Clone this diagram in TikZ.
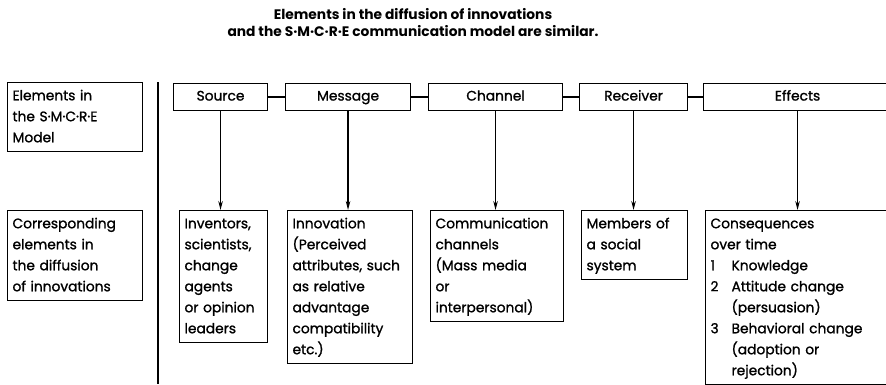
\documentclass[tikz,border=0pt]{standalone}
\usepackage{fontspec}
\setmainfont{Poppins}[UprightFeatures={FakeBold=1.2}]
\usetikzlibrary{arrows.meta}
\begin{document}
\begin{tikzpicture}[x=1pt,y=-1pt,
  line/.style={line width=1.2pt},
  hbox/.style={draw,line width=1.1pt,inner sep=0pt,minimum height=27pt,text height=10pt,text depth=3pt,anchor=north west,font=\fontsize{13.8}{15}\selectfont},
  tbox/.style={draw,line width=1.1pt,anchor=north west,align=left,inner xsep=5pt,inner ysep=3pt,font=\fontsize{13.8}{21}\selectfont,execute at begin node=\strut,execute at end node=\strut},
  ttl/.style={align=center,font=\bfseries\fontsize{13.8}{17}\selectfont},
  arr/.style={line width=1.2pt,-{Stealth[length=9pt,width=4.5pt]}}]
\useasboundingbox (0,0) rectangle (886,384);
\fill[white] (0,0) rectangle (886,384);

\node[ttl] (title) at (413,23) {Elements in the diffusion of innovations\\and the S·M·C·R·E communication model are similar.};

\node[tbox,text width=125pt] (lmodel) at (7,82) {Elements in\\the S·M·C·R·E\\Model};
\node[tbox,text width=125pt] (ldiff) at (7,210) {Corresponding\\elements in\\the diffusion\\of innovations};

\coordinate (vtop) at (158,82);
\coordinate (vbot) at (158,384);
\draw[line] (vtop) -- (vbot);

\node[hbox,minimum width=94pt] (source) at (173,83) {Source};
\node[hbox,minimum width=125pt] (message) at (285,83) {Message};
\node[hbox,minimum width=134pt] (channel) at (428,83) {Channel};
\node[hbox,minimum width=108pt] (receiver) at (579,83) {Receiver};
\node[hbox,minimum width=188pt] (effects) at (703,83) {Effects};

\draw[line] (source) -- (message);
\draw[line] (message) -- (channel);
\draw[line] (channel) -- (receiver);
\draw[line] (receiver) -- (effects);

\node[tbox,text width=78pt] (isource) at (179,210) {Inventors,\\scientists,\\change\\agents\\or opinion\\leaders};
\node[tbox,text width=115pt] (imessage) at (287,210) {Innovation\\(Perceived\\attributes, such\\as relative\\advantage\\compatibility\\etc.)};
\node[tbox,text width=123pt] (ichannel) at (430,210) {Communication\\channels\\(Mass media\\or\\interpersonal)};
\node[tbox,text width=96pt] (ireceiver) at (581,210) {Members of\\a social\\system};
\node[tbox,text width=180pt] (ieffects) at (705,210) {Consequences\\over time\\\makebox[21pt][l]{1}Knowledge\\\makebox[21pt][l]{2}Attitude change\\\hspace*{21pt}(persuasion)\\\makebox[21pt][l]{3}Behavioral change\\\hspace*{21pt}(adoption or\\\hspace*{21pt}rejection)};

\draw[arr] (source.south) -- (source.south |- isource.north);
\draw[arr] (message.south) -- (message.south |- imessage.north);
\draw[arr] (channel.south) -- (channel.south |- ichannel.north);
\draw[arr] (receiver.south) -- (receiver.south |- ireceiver.north);
\draw[arr] (effects.south) -- (effects.south |- ieffects.north);
\end{tikzpicture}
\end{document}
